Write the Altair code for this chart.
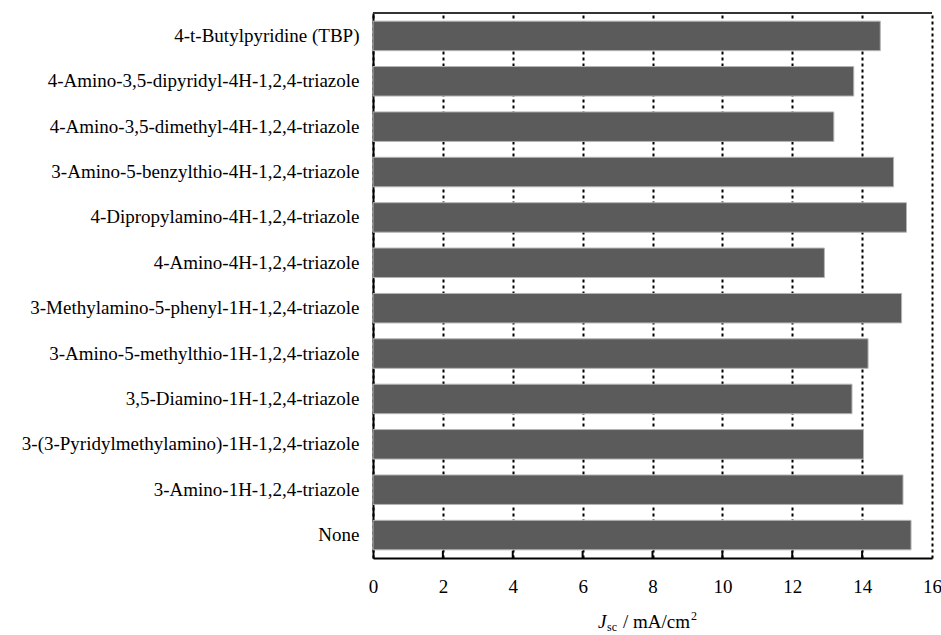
import altair as alt
import pandas as pd

categories = [
    "4-t-Butylpyridine (TBP)",
    "4-Amino-3,5-dipyridyl-4H-1,2,4-triazole",
    "4-Amino-3,5-dimethyl-4H-1,2,4-triazole",
    "3-Amino-5-benzylthio-4H-1,2,4-triazole",
    "4-Dipropylamino-4H-1,2,4-triazole",
    "4-Amino-4H-1,2,4-triazole",
    "3-Methylamino-5-phenyl-1H-1,2,4-triazole",
    "3-Amino-5-methylthio-1H-1,2,4-triazole",
    "3,5-Diamino-1H-1,2,4-triazole",
    "3-(3-Pyridylmethylamino)-1H-1,2,4-triazole",
    "3-Amino-1H-1,2,4-triazole",
    "None",
]
jsc_values = [14.52, 13.76, 13.19, 14.90, 15.27, 12.92, 15.13, 14.17, 13.71, 14.04, 15.17, 15.40]
x_ticks = [0, 2, 4, 6, 8, 10, 12, 14, 16]

W, H = 559, 545
FONT = "'Liberation Serif', 'Times New Roman', Times, serif"
FS = 19

df = pd.DataFrame({"compound": categories, "jsc": jsc_values})
ticks_df = pd.DataFrame({"t": x_ticks[1:-1]})

xscale = alt.Scale(domain=[0, 16], nice=False, zero=True)

bars = alt.Chart(df).mark_bar(
    color="#5b5b5b", stroke="#b4b4b4", strokeWidth=1
).encode(
    x=alt.X("jsc:Q", scale=xscale,
            axis=alt.Axis(values=x_ticks, title=None, ticks=False,
                          grid=True, gridColor="black", gridDash=[3, 3],
                          gridWidth=2, domainColor="black", domainWidth=2,
                          labelFont=FONT, labelFontSize=FS, labelColor="black",
                          labelPadding=19, labelFlush=False)),
    y=alt.Y("compound:N", sort=categories,
            scale=alt.Scale(paddingInner=0.35, paddingOuter=0.18),
            axis=alt.Axis(title=None, ticks=False, grid=False,
                          domainColor="black", domainWidth=2,
                          labelFont=FONT, labelFontSize=FS, labelColor="black",
                          labelPadding=14, labelLimit=400)),
)

inner_ticks = alt.Chart(ticks_df).mark_rule(color="black", strokeWidth=2).encode(
    x=alt.X("t:Q", scale=xscale),
    y=alt.value(H - 7),
    y2=alt.value(H),
)

top_line = alt.Chart(alt.Data(values=[{}])).mark_rule(color="#333333", strokeWidth=2).encode(
    x=alt.value(0), x2=alt.value(W), y=alt.value(0)
)

def txt(s, x, y, size=FS, style="normal"):
    return alt.Chart(alt.Data(values=[{}])).mark_text(
        text=s, align="left", baseline="alphabetic", font=FONT,
        fontSize=size, fontStyle=style, color="black"
    ).encode(x=alt.value(x), y=alt.value(y))

title_y = 615
t1 = txt("J", 225, title_y, FS, "italic")
t2 = txt("sc", 234, title_y + 3, 12)
t3 = txt("/ mA/cm", 250, title_y, FS)
t4 = txt("2", 318, title_y - 8, 12)

chart = alt.layer(bars, inner_ticks, top_line, t1, t2, t3, t4).properties(
    width=W, height=H,
    autosize=alt.AutoSizeParams(type="none"),
    padding={"left": 373, "top": 13, "right": 9, "bottom": 77},
    background="white",
).configure_view(stroke=None)

chart.save("out.html", embed_options={"renderer": "svg", "actions": False})
